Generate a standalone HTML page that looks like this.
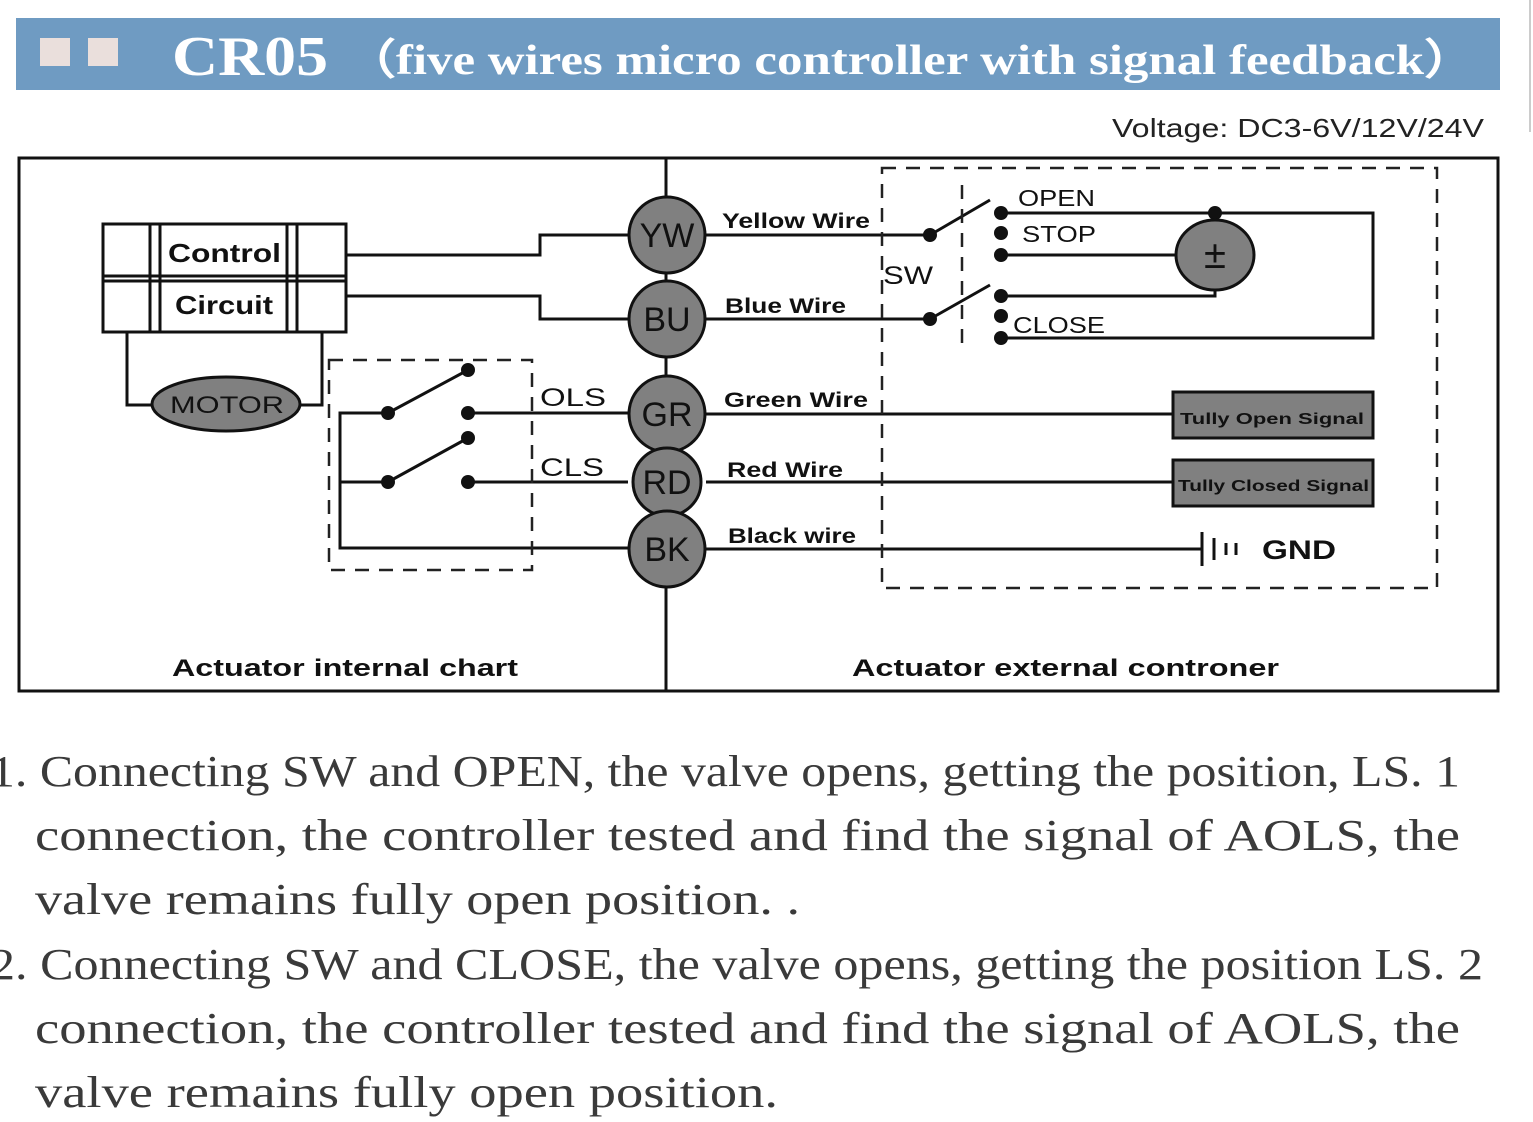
<!DOCTYPE html>
<html><head><meta charset="utf-8"><style>
html,body{margin:0;padding:0;background:#fff;width:1533px;height:1122px;overflow:hidden}
svg{display:block}
.b{font-family:"Liberation Sans",sans-serif;font-weight:bold;fill:#111}
.p{font-family:"Liberation Serif",serif;fill:#3a3a3a;font-size:44px}
</style></head><body>
<svg width="1533" height="1122" viewBox="0 0 1533 1122" xmlns="http://www.w3.org/2000/svg">
<rect x="16" y="18" width="1484" height="72" fill="#6f9bc2"/>
<rect x="40" y="38" width="30" height="28" fill="#eadfdc"/>
<rect x="88" y="38" width="30" height="28" fill="#eadfdc"/>
<text x="172" y="75" font-family="Liberation Serif,serif" font-weight="bold" font-size="56" fill="#fff" textLength="156" lengthAdjust="spacingAndGlyphs">CR05</text>
<text x="345" y="74" font-family="Liberation Serif,serif" font-weight="bold" font-size="42" fill="#fff" textLength="1130" lengthAdjust="spacingAndGlyphs">（five wires micro controller with signal feedback）</text>
<line x1="1530" y1="0" x2="1530" y2="132" stroke="#ccc" stroke-width="2"/>
<text x="1112" y="137" font-family="Liberation Sans,sans-serif" font-size="26" fill="#222" textLength="372" lengthAdjust="spacingAndGlyphs">Voltage:  DC3-6V/12V/24V</text>

<g fill="none" stroke="#111" stroke-width="3">
<rect x="19" y="158" width="1479" height="533"/>
<line x1="666" y1="158" x2="666" y2="691"/>
<rect x="103" y="224" width="243" height="108"/>
<line x1="150" y1="224" x2="150" y2="332"/><line x1="160" y1="224" x2="160" y2="332"/>
<line x1="287" y1="224" x2="287" y2="332"/><line x1="297" y1="224" x2="297" y2="332"/>
<line x1="103" y1="276" x2="346" y2="276"/><line x1="103" y1="281" x2="346" y2="281"/>
<polyline points="346,255 540,255 540,235 628,235"/>
<polyline points="346,296 540,296 540,319 628,319"/>
<polyline points="127,332 127,405 152,405"/>
<polyline points="300,405 322,405 322,332"/>
<polyline points="388,413 340,413 340,548 628,548"/>
<line x1="340" y1="482" x2="388" y2="482"/>
<line x1="388" y1="413" x2="468" y2="370"/>
<line x1="388" y1="482" x2="468" y2="438"/>
<line x1="468" y1="413" x2="628" y2="413"/>
<line x1="468" y1="482" x2="628" y2="482"/>
<line x1="706" y1="235" x2="930" y2="235"/>
<line x1="706" y1="319" x2="930" y2="319"/>
<line x1="930" y1="235" x2="990" y2="200"/>
<line x1="930" y1="319" x2="990" y2="285"/>
<polyline points="1001,213 1373,213 1373,338 1001,338"/>
<line x1="1215" y1="213" x2="1215" y2="222"/>
<line x1="1001" y1="255" x2="1178" y2="255"/>
<polyline points="1215,290 1215,296 1001,296"/>
<line x1="706" y1="414" x2="1173" y2="414"/>
<line x1="706" y1="482" x2="1173" y2="482"/>
<line x1="706" y1="549" x2="1202" y2="549"/>
<line x1="1202" y1="532" x2="1202" y2="566"/>
<line x1="1214" y1="538" x2="1214" y2="560"/>
<line x1="1226" y1="543" x2="1226" y2="555"/>
<line x1="1236" y1="543" x2="1236" y2="555"/>
</g>
<g fill="none" stroke="#222" stroke-width="2.5" stroke-dasharray="14,10">
<rect x="329" y="360" width="203" height="210"/>
<rect x="882" y="168" width="555" height="420"/>
<line x1="962" y1="185" x2="962" y2="352"/>
</g>
<g fill="#111">
<circle cx="388" cy="413" r="7"/><circle cx="468" cy="370" r="7"/><circle cx="468" cy="413" r="7"/>
<circle cx="388" cy="482" r="7"/><circle cx="468" cy="438" r="7"/><circle cx="468" cy="482" r="7"/>
<circle cx="930" cy="235" r="7"/><circle cx="930" cy="319" r="7"/>
<circle cx="1001" cy="213" r="7"/><circle cx="1001" cy="233" r="7"/><circle cx="1001" cy="255" r="7"/>
<circle cx="1001" cy="296" r="7"/><circle cx="1001" cy="316" r="7"/><circle cx="1001" cy="338" r="7"/>
<circle cx="1215" cy="213" r="7"/>
</g>
<g fill="#808080" stroke="#111" stroke-width="3">
<ellipse cx="226" cy="404" rx="74" ry="27"/>
<circle cx="667" cy="235" r="38"/><circle cx="667" cy="319" r="38"/>
<circle cx="667" cy="414" r="38"/><circle cx="667" cy="482" r="34"/><circle cx="667" cy="549" r="38"/>
<ellipse cx="1215" cy="255" rx="39" ry="35"/>
<rect x="1173" y="392" width="200" height="46"/>
<rect x="1173" y="460" width="200" height="46"/>
</g>
<g font-family="Liberation Sans,sans-serif" font-size="34" fill="#111" text-anchor="middle">
<text x="667" y="247">YW</text><text x="667" y="331">BU</text><text x="667" y="426">GR</text>
<text x="667" y="494">RD</text><text x="667" y="561">BK</text>
<text x="1215" y="268" font-size="40">±</text>
</g>
<text x="170" y="413" font-family="Liberation Sans,sans-serif" font-size="24" fill="#111" textLength="114" lengthAdjust="spacingAndGlyphs">MOTOR</text>
<text class="b" x="168" y="262" font-size="26" textLength="113" lengthAdjust="spacingAndGlyphs">Control</text>
<text class="b" x="175" y="314" font-size="26" textLength="98" lengthAdjust="spacingAndGlyphs">Circuit</text>
<g font-family="Liberation Sans,sans-serif" font-size="25" fill="#111">
<text x="540" y="406" textLength="66" lengthAdjust="spacingAndGlyphs">OLS</text><text x="540" y="476" textLength="64" lengthAdjust="spacingAndGlyphs">CLS</text>
<text x="883" y="284" textLength="50" lengthAdjust="spacingAndGlyphs">SW</text>
<text x="1018" y="206" font-size="23" textLength="77" lengthAdjust="spacingAndGlyphs">OPEN</text>
<text x="1022" y="242" font-size="23" textLength="74" lengthAdjust="spacingAndGlyphs">STOP</text>
<text x="1013" y="333" font-size="23" textLength="92" lengthAdjust="spacingAndGlyphs">CLOSE</text>
</g>
<g class="b" font-size="21">
<text x="722" y="228" textLength="148" lengthAdjust="spacingAndGlyphs">Yellow Wire</text>
<text x="725" y="313" textLength="121" lengthAdjust="spacingAndGlyphs">Blue Wire</text>
<text x="724" y="407" textLength="144" lengthAdjust="spacingAndGlyphs">Green Wire</text>
<text x="727" y="477" textLength="116" lengthAdjust="spacingAndGlyphs">Red Wire</text>
<text x="728" y="543" textLength="128" lengthAdjust="spacingAndGlyphs">Black wire</text>
</g>
<text class="b" x="1180" y="424" font-size="16" fill="#222" textLength="184" lengthAdjust="spacingAndGlyphs">Tully Open Signal</text>
<text class="b" x="1178" y="491" font-size="16" fill="#222" textLength="191" lengthAdjust="spacingAndGlyphs">Tully Closed Signal</text>
<text class="b" x="1262" y="559" font-size="27" textLength="74" lengthAdjust="spacingAndGlyphs">GND</text>
<text class="b" x="172" y="676" font-size="24" textLength="346" lengthAdjust="spacingAndGlyphs">Actuator internal chart</text>
<text class="b" x="852" y="676" font-size="24" textLength="427" lengthAdjust="spacingAndGlyphs">Actuator external controner</text>

<text class="p" x="-10" y="786" textLength="1470" lengthAdjust="spacingAndGlyphs">1. Connecting SW and OPEN, the valve opens, getting the position, LS. 1</text>
<text class="p" x="35" y="850" textLength="1425" lengthAdjust="spacingAndGlyphs">connection, the controller tested and find the signal of AOLS, the</text>
<text class="p" x="35" y="914" textLength="765" lengthAdjust="spacingAndGlyphs">valve remains fully open position. .</text>
<text class="p" x="-10" y="979" textLength="1493" lengthAdjust="spacingAndGlyphs">2. Connecting SW and CLOSE, the valve opens, getting the position LS. 2</text>
<text class="p" x="35" y="1043" textLength="1425" lengthAdjust="spacingAndGlyphs">connection, the controller tested and find the signal of AOLS, the</text>
<text class="p" x="35" y="1107" textLength="743" lengthAdjust="spacingAndGlyphs">valve remains fully open position.</text>
</svg>
</body></html>
